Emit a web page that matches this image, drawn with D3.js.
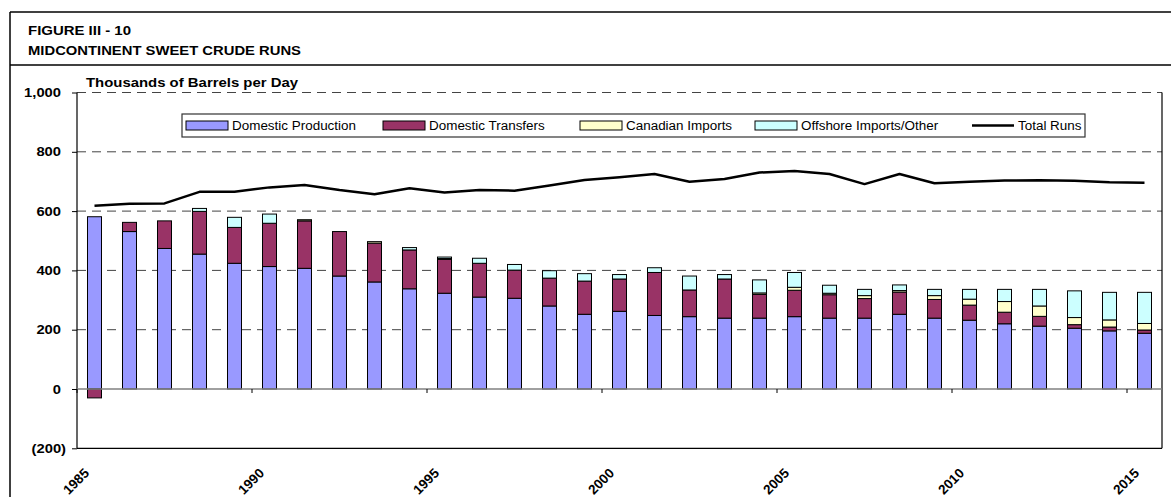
<!DOCTYPE html>
<html><head><meta charset="utf-8">
<script src="https://cdn.jsdelivr.net/npm/d3@7"></script>
<style>
html,body{margin:0;padding:0;background:#fff;}
svg{display:block;font-family:"Liberation Sans",Arial,sans-serif;}
</style></head>
<body><svg id="c" width="1171" height="497"></svg>
<script>
const years = d3.range(1985, 2016);
const domesticProduction = [581,531,474,455,424,413,407,381,361,338,323,310,306,280,252,262,248,244,239,239,244,239,239,252,239,232,220,212,205,196,188];
const domesticTransfers  = [-30,31,93,144,121,146,160,150,131,131,114,114,95,94,112,109,145,90,132,80,89,79,66,75,63,51,39,33,12,13,11];
const canadianImports    = [0,0,0,0,0,0,4,0,5,0,3,0,0,0,0,0,0,0,0,5,10,5,10,5,13,20,36,35,24,24,22];
const offshoreImports    = [0,0,0,10,34,31,0,0,0,8,5,17,19,25,25,15,16,47,15,44,50,27,21,19,21,33,41,56,90,93,105];
const totalRuns          = [618,625,626,665,665,680,688,671,657,677,663,671,669,686,705,714,725,699,708,730,735,725,691,725,694,699,703,704,702,697,696];
const yTicks = [-200,0,200,400,600,800,1000];
const xTickYears = [1985,1990,1995,2000,2005,2010,2015];
const seriesNames = ["Domestic Production","Domestic Transfers","Canadian Imports","Offshore Imports/Other"];
const seriesColors = ["#9999FF","#993366","#FFFFCC","#CCFFFF"];
const seriesValues = [domesticProduction, domesticTransfers, canadianImports, offshoreImports];

const svg = d3.select("#c");
const L = 77, R = 1162, T = 92.5, B = 448.3;
const x = d3.scaleBand().domain(years).range([L, R]).padding(0);
const y = d3.scaleLinear().domain([-200, 1000]).range([B, T]);
const bw = x.bandwidth() * 0.4;

function fitWidth(sel, w) {
  sel.attr("textLength", w).attr("lengthAdjust", "spacingAndGlyphs");
}
function stretch(sel, sx) {
  sel.each(function () {
    const w = this.getComputedTextLength();
    d3.select(this).attr("textLength", w * sx).attr("lengthAdjust", "spacingAndGlyphs");
  });
}

// Outer frame and header
svg.append("line").attr("x1",10).attr("x2",10).attr("y1",12).attr("y2",497).attr("stroke","#000").attr("stroke-width",1.5);
svg.append("line").attr("x1",10).attr("x2",1171).attr("y1",12).attr("y2",12).attr("stroke","#000").attr("stroke-width",1.5);
svg.append("line").attr("x1",10).attr("x2",1171).attr("y1",65).attr("y2",65).attr("stroke","#000").attr("stroke-width",1.5);
fitWidth(svg.append("text").attr("x",28).attr("y",34.5).attr("font-size","12px").attr("font-weight","bold").text("FIGURE III - 10"), 103);
fitWidth(svg.append("text").attr("x",28).attr("y",55).attr("font-size","12px").attr("font-weight","bold").text("MIDCONTINENT SWEET CRUDE RUNS"), 273);
fitWidth(svg.append("text").attr("x",86).attr("y",87).attr("font-size","12.5px").attr("font-weight","bold").text("Thousands of Barrels per Day"), 212);

// Gridlines
svg.append("g").selectAll("line").data(yTicks.filter(d => d > 0)).join("line")
  .attr("x1", L).attr("x2", R).attr("y1", d => y(d)).attr("y2", d => y(d))
  .attr("stroke", "#444").attr("stroke-width", 1).attr("stroke-dasharray", "9,6");

// Y axis
const yAxis = d3.axisLeft(y).tickValues(yTicks).tickSize(5).tickPadding(11)
  .tickFormat(d => d < 0 ? "(" + d3.format(",")(-d) + ")" : d3.format(",")(d));
const ya = svg.append("g").attr("transform", `translate(${L},0)`).call(yAxis);
ya.select(".domain").remove();
ya.selectAll(".tick line").attr("stroke","#000");
ya.selectAll(".tick text").attr("font-size","12.5px").attr("font-weight","bold").attr("fill","#000")
  .attr("font-family","'Liberation Sans',Arial,sans-serif")
  .attr("dx", d => d < 0 ? "5" : "0");
stretch(ya.selectAll(".tick text"), 1.18);
svg.append("line").attr("x1",L).attr("x2",L).attr("y1",T).attr("y2",B).attr("stroke","#000").attr("stroke-width",1.2);
svg.append("line").attr("x1",L).attr("x2",R).attr("y1",B).attr("y2",B).attr("stroke","#000").attr("stroke-width",1.2);
svg.append("line").attr("x1",R).attr("x2",R).attr("y1",T).attr("y2",B).attr("stroke","#000").attr("stroke-width",1.2);

// Stacked bars
const stacks = years.map((yr, i) => {
  let pos = 0, neg = 0;
  return seriesValues.map((s, k) => {
    const v = s[i];
    let y0, y1;
    if (v >= 0) { y0 = pos; y1 = pos + v; pos = y1; } else { y0 = neg + v; y1 = neg; neg = y0; }
    return {yr, k, v, y0, y1};
  }).filter(d => d.v !== 0);
});
const gb = svg.append("g");
stacks.forEach(segs => {
  gb.selectAll(null).data(segs).join("rect")
    .attr("x", d => x(d.yr) + (x.bandwidth() - bw) / 2)
    .attr("width", bw)
    .attr("y", d => y(d.y1))
    .attr("height", d => Math.max(0.5, y(d.y0) - y(d.y1)))
    .attr("fill", d => seriesColors[d.k])
    .attr("stroke", "#000").attr("stroke-width", 1);
});

// Zero line
svg.append("line").attr("x1",L).attr("x2",R).attr("y1",y(0)).attr("y2",y(0)).attr("stroke","#808080").attr("stroke-width",1.5);

// X ticks and labels
const gx = svg.append("g");
gx.selectAll("line").data(xTickYears).join("line")
  .attr("x1", d => x(d)).attr("x2", d => x(d)).attr("y1", y(0)).attr("y2", y(0) + 4)
  .attr("stroke", "#000").attr("stroke-width", 1);
gx.selectAll("text").data(xTickYears).join("text")
  .attr("transform", d => `translate(${x(d) + 13},474) rotate(-45)`)
  .attr("text-anchor", "end").attr("font-size", "13.5px").attr("font-weight", "bold")
  .text(d => d);

// Total runs line
const line = d3.line().x((d, i) => x(years[i]) + x.bandwidth() / 2).y(d => y(d));
svg.append("path").datum(totalRuns).attr("d", line).attr("fill", "none")
  .attr("stroke", "#000").attr("stroke-width", 2.5).attr("stroke-linejoin", "round");

// Legend
const lg = svg.append("g");
lg.append("rect").attr("x", 182).attr("y", 114).attr("width", 903).attr("height", 23)
  .attr("fill", "#fff").attr("stroke", "#333").attr("stroke-width", 1.2);
const legItems = [
  {name: seriesNames[0], color: seriesColors[0], x: 186},
  {name: seriesNames[1], color: seriesColors[1], x: 383},
  {name: seriesNames[2], color: seriesColors[2], x: 580},
  {name: seriesNames[3], color: seriesColors[3], x: 755},
];
legItems.forEach(d => {
  lg.append("rect").attr("x", d.x).attr("y", 121).attr("width", 42).attr("height", 9)
    .attr("fill", d.color).attr("stroke", "#000").attr("stroke-width", 1);
  stretch(lg.append("text").attr("x", d.x + 46).attr("y", 130).attr("font-size", "12px").text(d.name), 1.12);
});
lg.append("line").attr("x1", 972).attr("x2", 1014).attr("y1", 125.5).attr("y2", 125.5).attr("stroke", "#000").attr("stroke-width", 2.5);
stretch(lg.append("text").attr("x", 1018).attr("y", 130).attr("font-size", "12px").text("Total Runs"), 1.12);
</script></body></html>
